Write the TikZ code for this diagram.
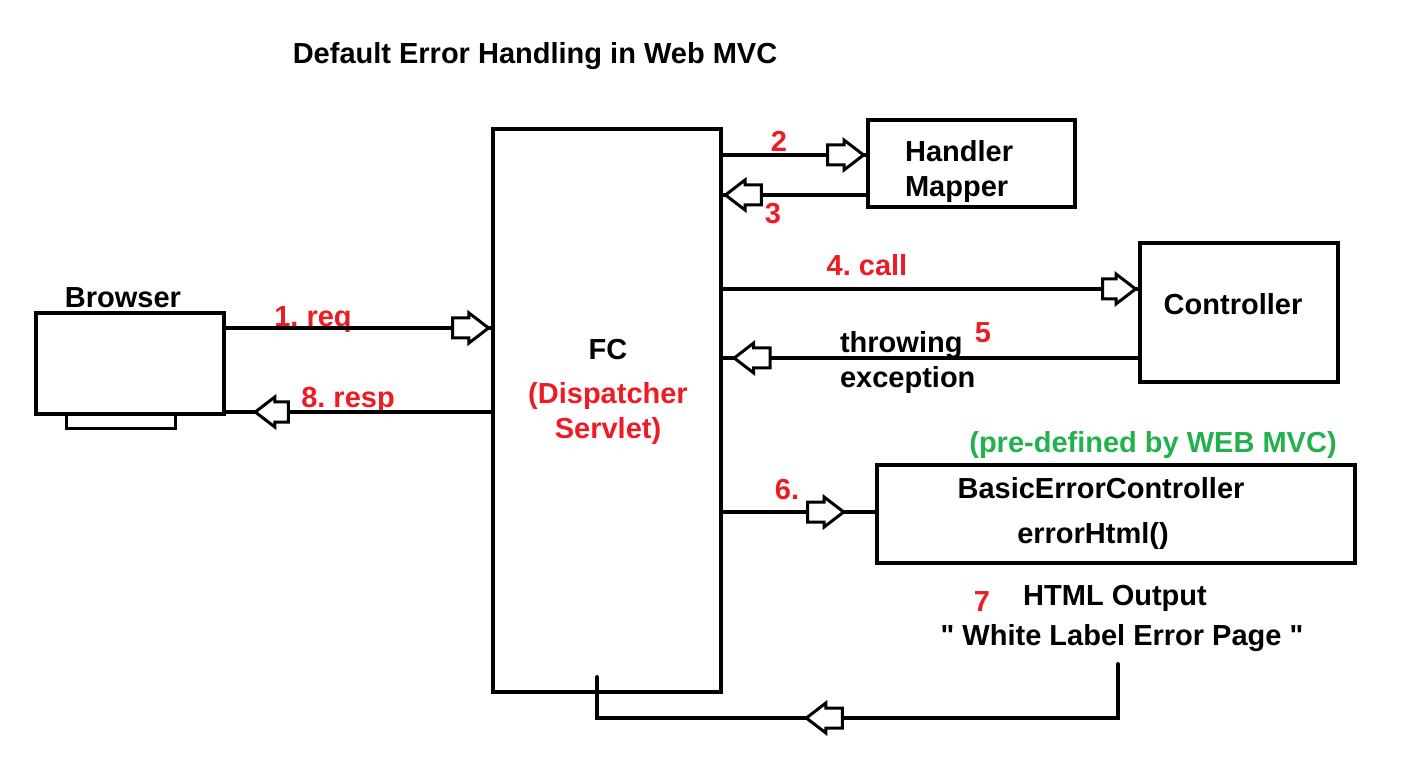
\documentclass[tikz,border=0pt]{standalone}
\usepackage{fontspec}
\setmainfont{Liberation Sans}
\usetikzlibrary{positioning,shapes.arrows}
\definecolor{paintred}{RGB}{237,28,36}
\definecolor{paintgreen}{RGB}{34,177,76}

\begin{document}
\begin{tikzpicture}[x=0.5pt,y=-0.5pt,
   font=\fontsize{14.5}{17.5}\selectfont\bfseries\frenchspacing,
   box/.style={draw,line width=2pt,inner sep=0pt},
   wire/.style={line width=2pt},
   rarrow/.style={single arrow,draw,fill=white,line width=1.5pt,inner sep=4.25pt,
      minimum height=18pt,single arrow head extend=2.5pt,
      single arrow tip angle=75,anchor=tip},
   larrow/.style={rarrow,shape border rotate=180},
   num/.style={text=paintred}]
   \useasboundingbox (0,0) rectangle (1416,774);
   \node (title) at (535,56) {Default Error Handling in Web MVC};
   % boxes
   \node[box,minimum width=114pt,minimum height=281.5pt] (fc) at (607,410.5) {};
   \node[box,minimum width=103.5pt,minimum height=43.5pt] (hm) at (971.5,163.5) {};
   \node[box,minimum width=99pt,minimum height=69.5pt] (ctrl) at (1239,312.5) {};
   \node[box,minimum width=94pt,minimum height=50.5pt] (browser) at (130,363.5) {};
   \node[draw,line width=1.5pt,inner sep=0pt,minimum width=54.5pt,minimum height=7pt] (stand) at (120.5,421) {};
   \node[box,minimum width=239pt,minimum height=49pt] (bec) at (1116,514) {};
   % texts
   \node (browsertext) at (123,298) {Browser};
   \node (fctext) at (608,350) {FC};
   \node[num,align=center] (fcname) at (608,414) {(Dispatcher\\Servlet)};
   \node[align=left,anchor=west] (hmtext) at (898,171.5) {Handler\\Mapper};
   \node (ctrltext) at (1233,304) {Controller};
   \node (bectext) at (1101,488) {BasicErrorController};
   \node (methodtext) at (1093,536) {errorHtml()};
   \node[text=paintgreen] (predef) at (1153,445) {(pre-defined by WEB MVC)};
   \node[align=left,anchor=west] (throwtext) at (833,362.5) {throwing\\exception};
   \node (htmltext) at (1115,598) {HTML Output};
   \node (pagetext) at (1122,638) {\textquotedbl{} White Label Error Page \textquotedbl};
   % step numbers
   \node[num] (n1) at (313,320) {1. req};
   \node[num] (n2) at (779,141) {2};
   \node[num] (n3) at (773,214) {3};
   \node[num] (n4) at (867,265) {4. call};
   \node[num] (n5) at (983,333) {5};
   \node[num] (n6) at (787,490) {6.};
   \node[num] (n7) at (982,602) {7};
   \node[num] (n8) at (348,400) {8. resp};
   % connectors
   \draw[wire] (browser.east |- 0,328) -- (fc.west |- 0,328) node[rarrow] {};
   \draw[wire] (fc.west |- 0,412) -- node[larrow,pos=0.899,minimum height=14pt] {} (browser.east |- 0,412);
   \draw[wire] (fc.east |- 0,155) -- (hm.west |- 0,155) node[rarrow] {};
   \draw[wire] (hm.west |- 0,195) -- (fc.east |- 0,195) node[larrow] {};
   \draw[wire] (fc.east |- 0,289) -- (ctrl.west |- 0,289) node[rarrow,minimum height=15pt] {};
   \draw[wire] (ctrl.west |- 0,358) -- node[larrow,pos=0.979] {} (fc.east |- 0,358);
   \draw[wire] (fc.east |- 0,512) -- node[rarrow,pos=0.81] {} (bec.west |- 0,512);
   \coordinate (htmlout) at (1118,664);
   \coordinate (fcin) at (597,677);
   \draw[wire,line cap=round] (htmlout) -- (htmlout |- 0,718)
      -- node[larrow,pos=0.603] {} (fcin |- 0,718) -- (fcin);
\end{tikzpicture}
\end{document}
